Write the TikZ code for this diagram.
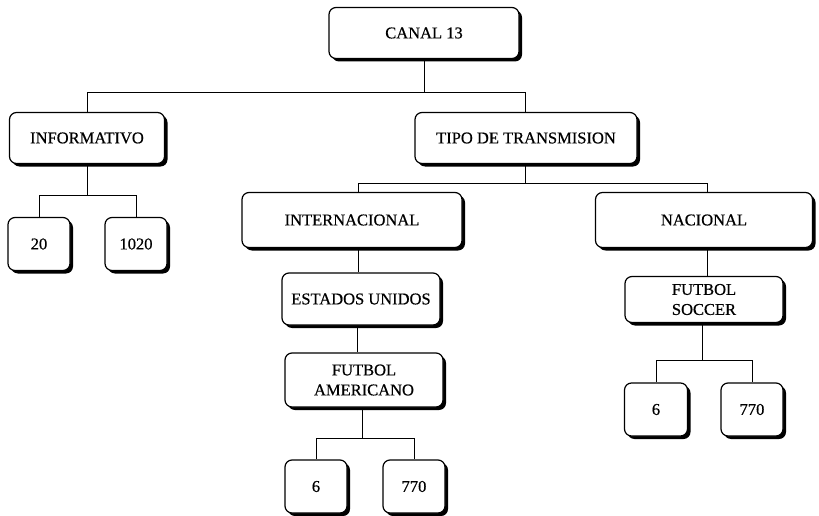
\documentclass[tikz,border=0pt]{standalone}
\usepackage{fontspec}
\setmainfont{Liberation Serif}
\newfontfamily\boxfont[FakeBold=0.5]{Liberation Serif}
\usetikzlibrary{shadows}
\begin{document}
\begin{tikzpicture}[x=1pt,y=-1pt,
  box/.style={draw=black, line width=1.2pt, rounded corners=7pt, fill=white,
    drop shadow={shadow xshift=3pt, shadow yshift=-3pt, fill=black, opacity=1, rounded corners=7pt},
    font=\boxfont\fontsize{16.5}{20}\selectfont, align=center, inner sep=0pt},
  conn/.style={draw=black, line width=1pt}]
\useasboundingbox (0,0) rectangle (819,516);
\node[box, minimum width=190pt, minimum height=51pt] (canal) at (424,33) {CANAL 13};
\node[box, minimum width=155pt, minimum height=51pt] (info) at (87,138) {INFORMATIVO};
\node[box, minimum width=222pt, minimum height=51pt] (tipo) at (526,138) {TIPO DE TRANSMISION};
\node[box, minimum width=62pt, minimum height=53pt] (b20) at (39,244) {20};
\node[box, minimum width=62pt, minimum height=53pt] (b1020) at (136,244) {1020};
\node[box, minimum width=220pt, minimum height=55pt] (inter) at (352,220) {INTERNACIONAL};
\node[box, minimum width=217pt, minimum height=55pt] (nac) at (704,220) {NACIONAL};
\node[box, minimum width=158pt, minimum height=52pt] (est) at (361,299) {ESTADOS UNIDOS};
\node[box, minimum width=158pt, minimum height=54pt] (fam) at (364,380) {FUTBOL\\AMERICANO};
\node[box, minimum width=62pt, minimum height=53pt] (b6a) at (316,486.5) {6};
\node[box, minimum width=62pt, minimum height=53pt] (b770a) at (414,486.5) {770};
\node[box, minimum width=158pt, minimum height=46pt] (fso) at (704,299.5) {FUTBOL\\SOCCER};
\node[box, minimum width=63pt, minimum height=53pt] (b6b) at (656,409.5) {6};
\node[box, minimum width=62pt, minimum height=53pt] (b770b) at (752,409.5) {770};
% connectors
\draw[conn] (canal.south) -- ++(0,33) coordinate (c1);
\draw[conn] (c1) -| (info.north);
\draw[conn] (c1) -| ([xshift=-1pt]tipo.north);
\draw[conn] (info.south) -- ++(0,31) coordinate (i1);
\draw[conn] (i1) -| (b20.north);
\draw[conn] (i1) -| (b1020.north);
\draw[conn] ([xshift=-1pt]tipo.south) -- ++(0,19) coordinate (t1);
\draw[conn] (t1) -| ([xshift=6pt]inter.north);
\draw[conn] (t1) -| ([xshift=3pt]nac.north);
\draw[conn] ([xshift=6pt]inter.south) -- ([xshift=-3pt]est.north);
\draw[conn] ([xshift=-4pt]est.south) -- ([xshift=-7pt]fam.north);
\draw[conn] ([xshift=-2pt]fam.south) -- ++(0,31) coordinate (f1);
\draw[conn] (f1) -| (b6a.north);
\draw[conn] (f1) -| (b770a.north);
\draw[conn] ([xshift=3pt]nac.south) -- ([xshift=3pt]fso.north);
\draw[conn] ([xshift=-2pt]fso.south) -- ++(0,37.5) coordinate (s1);
\draw[conn] (s1) -| (b6b.north);
\draw[conn] (s1) -| (b770b.north);
\end{tikzpicture}
\end{document}
